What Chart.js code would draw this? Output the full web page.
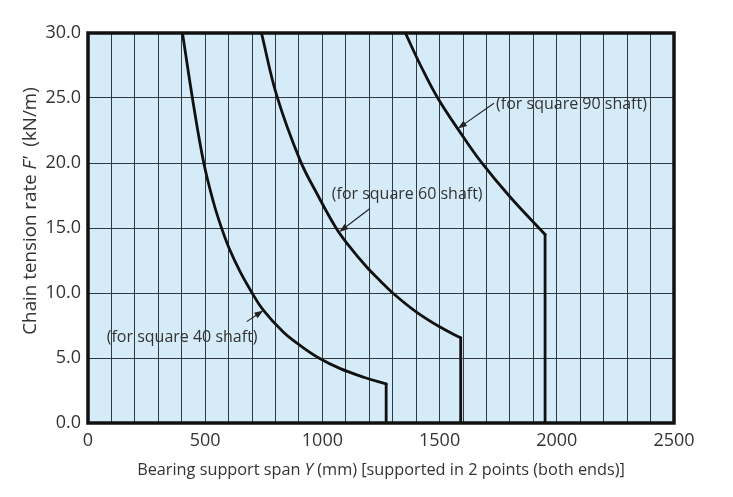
<!DOCTYPE html>
<html><head><meta charset="utf-8">
<script src="https://cdn.jsdelivr.net/npm/chart.js@4.4.1/dist/chart.umd.min.js"></script>
<style>html,body{margin:0;padding:0;background:#fff}#wrap{width:733px;height:497px;position:relative}</style>
</head><body><div id="wrap"><canvas id="c"></canvas></div>
<script>
// ---- data ----
const span40 = [403, 449, 494, 535, 566, 603, 650, 697, 747, 833, 910, 985, 1074, 1180, 1272];
const rate40 = [30, 24.6, 20, 17.0, 15.2, 13.4, 11.6, 10.1, 8.7, 7.0, 5.9, 5.0, 4.2, 3.5, 3.0];
const span60 = [740, 805, 905, 981, 1055, 1110, 1189, 1246, 1300, 1400, 1500, 1590];
const rate60 = [30, 25.2, 20.2, 17.5, 15.1, 13.7, 12.0, 10.95, 10.0, 8.55, 7.4, 6.55];
const span90 = [1354, 1419, 1492, 1590, 1676, 1800, 1950];
const rate90 = [30, 27.5, 25, 22.3, 20.1, 17.4, 14.5];
const xTickValues = [0, 500, 1000, 1500, 2000, 2500];
const xTickLabels = ['0', '500', '1000', '1500', '2000', '2500'];
const yTickValues = [0, 5, 10, 15, 20, 25, 30];
const yTickLabels = ['0.0', '5.0', '10.0', '15.0', '20.0', '25.0', '30.0'];
const seriesNames = ['(for square 40 shaft)', '(for square 60 shaft)', '(for square 90 shaft)'];

const pts = (xs, ys) => xs.map((x, i) => ({x, y: ys[i]}));
const drop = (xs, ys) => [{x: xs[xs.length - 1], y: ys[ys.length - 1]}, {x: xs[xs.length - 1], y: 0}];

const FONT = '"Open Sans", "DejaVu Sans", sans-serif';
const TEXT = '#333';
const lineStyle = {borderColor: '#111', borderWidth: 2.8, pointRadius: 0, fill: false, borderJoinStyle: 'round', borderCapStyle: 'round'};

// label placement (data coordinates): text anchor + arrow start/tip
const notes = [
  {text: seriesNames[0], tx: 80, ty: 6.6, ax: 677, ay: 7.8, bx: 748, by: 8.65},
  {text: seriesNames[1], tx: 1040, ty: 17.55, ax: 1203, ay: 16.5, bx: 1072, by: 14.7},
  {text: seriesNames[2], tx: 1741, ty: 24.5, ax: 1732, ay: 24.6, bx: 1578, by: 22.65}
];

const bgPlugin = {
  id: 'bg',
  beforeDraw(chart) {
    const {ctx, chartArea: a} = chart;
    ctx.save(); ctx.fillStyle = '#d5ebf8';
    ctx.fillRect(a.left, a.top, a.right - a.left, a.bottom - a.top);
    ctx.restore();
  }
};

function drawMixed(ctx, segs, cx, cy) {
  let total = 0;
  segs.forEach(s => { ctx.font = s.font; s.w = ctx.measureText(s.t).width; total += s.w; });
  let x = cx - total / 2;
  segs.forEach(s => { ctx.font = s.font; ctx.fillText(s.t, x, cy); x += s.w; });
}

const decoPlugin = {
  id: 'deco',
  afterDatasetsDraw(chart) {
    const {ctx, chartArea: a, scales: {x, y}} = chart;
    ctx.save();
    // frame
    ctx.strokeStyle = '#111'; ctx.lineWidth = 3.5;
    ctx.strokeRect(a.left, a.top, a.right - a.left, a.bottom - a.top);
    // notes
    ctx.strokeStyle = '#222';
    ctx.textBaseline = 'middle'; ctx.textAlign = 'left';
    ctx.font = '16px ' + FONT;
    notes.forEach(n => {
      ctx.fillStyle = TEXT;
      ctx.fillText(n.text, x.getPixelForValue(n.tx), y.getPixelForValue(n.ty));
      const x0 = x.getPixelForValue(n.ax), y0 = y.getPixelForValue(n.ay);
      const x1 = x.getPixelForValue(n.bx), y1 = y.getPixelForValue(n.by);
      const ang = Math.atan2(y1 - y0, x1 - x0);
      const L = 9, W = 3.2;
      ctx.lineWidth = 1.1;
      ctx.beginPath(); ctx.moveTo(x0, y0);
      ctx.lineTo(x1 - L * 0.8 * Math.cos(ang), y1 - L * 0.8 * Math.sin(ang)); ctx.stroke();
      ctx.beginPath();
      ctx.moveTo(x1, y1);
      ctx.lineTo(x1 - L * Math.cos(ang) + W * Math.sin(ang), y1 - L * Math.sin(ang) - W * Math.cos(ang));
      ctx.lineTo(x1 - L * Math.cos(ang) - W * Math.sin(ang), y1 - L * Math.sin(ang) + W * Math.cos(ang));
      ctx.closePath(); ctx.fillStyle = '#222'; ctx.fill();
    });
    // axis titles
    ctx.fillStyle = TEXT; ctx.textAlign = 'left'; ctx.textBaseline = 'middle';
    drawMixed(ctx, [
      {t: 'Bearing support span ', font: '16.3px ' + FONT},
      {t: 'Y', font: 'italic 16.3px ' + FONT},
      {t: ' (mm) [supported in 2 points (both ends)]', font: '16.3px ' + FONT}
    ], (a.left + a.right) / 2, 470);
    ctx.translate(31, 211); ctx.rotate(-Math.PI / 2);
    drawMixed(ctx, [
      {t: 'Chain tension rate ', font: '18.8px ' + FONT},
      {t: "F'", font: 'italic 18.8px ' + FONT},
      {t: '  (kN/m)', font: '18.8px ' + FONT}
    ], 0, 0);
    ctx.restore();
  }
};

new Chart(document.getElementById('c'), {
  type: 'line',
  data: {
    datasets: [
      {label: seriesNames[0], data: pts(span40, rate40), tension: 0.4, ...lineStyle},
      {label: seriesNames[0] + ' limit', data: drop(span40, rate40), tension: 0, ...lineStyle},
      {label: seriesNames[1], data: pts(span60, rate60), tension: 0.4, ...lineStyle},
      {label: seriesNames[1] + ' limit', data: drop(span60, rate60), tension: 0, ...lineStyle},
      {label: seriesNames[2], data: pts(span90, rate90), tension: 0.4, ...lineStyle},
      {label: seriesNames[2] + ' limit', data: drop(span90, rate90), tension: 0, ...lineStyle}
    ]
  },
  options: {
    responsive: true, maintainAspectRatio: false, animation: false,
    layout: {padding: {top: 33, right: 59, left: 0, bottom: 0}},
    plugins: {legend: {display: false}, tooltip: {enabled: false}, title: {display: false}},
    scales: {
      x: {
        type: 'linear', min: 0, max: 2500,
        ticks: {stepSize: 100, maxTicksLimit: 100, autoSkip: false, maxRotation: 0, padding: 7,
          color: TEXT, font: {family: FONT, size: 18},
          callback: v => { const i = xTickValues.indexOf(v); return i >= 0 ? xTickLabels[i] : ''; }},
        grid: {color: '#2f3a40', lineWidth: 1, drawTicks: false},
        border: {display: false},
        afterFit: s => { s.height = 74; }
      },
      y: {
        min: 0, max: 30,
        ticks: {stepSize: 5, padding: 7, color: TEXT, font: {family: FONT, size: 18},
          callback: v => { const i = yTickValues.indexOf(v); return i >= 0 ? yTickLabels[i] : ''; }},
        grid: {color: '#2f3a40', lineWidth: 1, drawTicks: false},
        border: {display: false},
        afterFit: s => { s.width = 88; }
      }
    }
  },
  plugins: [bgPlugin, decoPlugin]
});
</script></body></html>
